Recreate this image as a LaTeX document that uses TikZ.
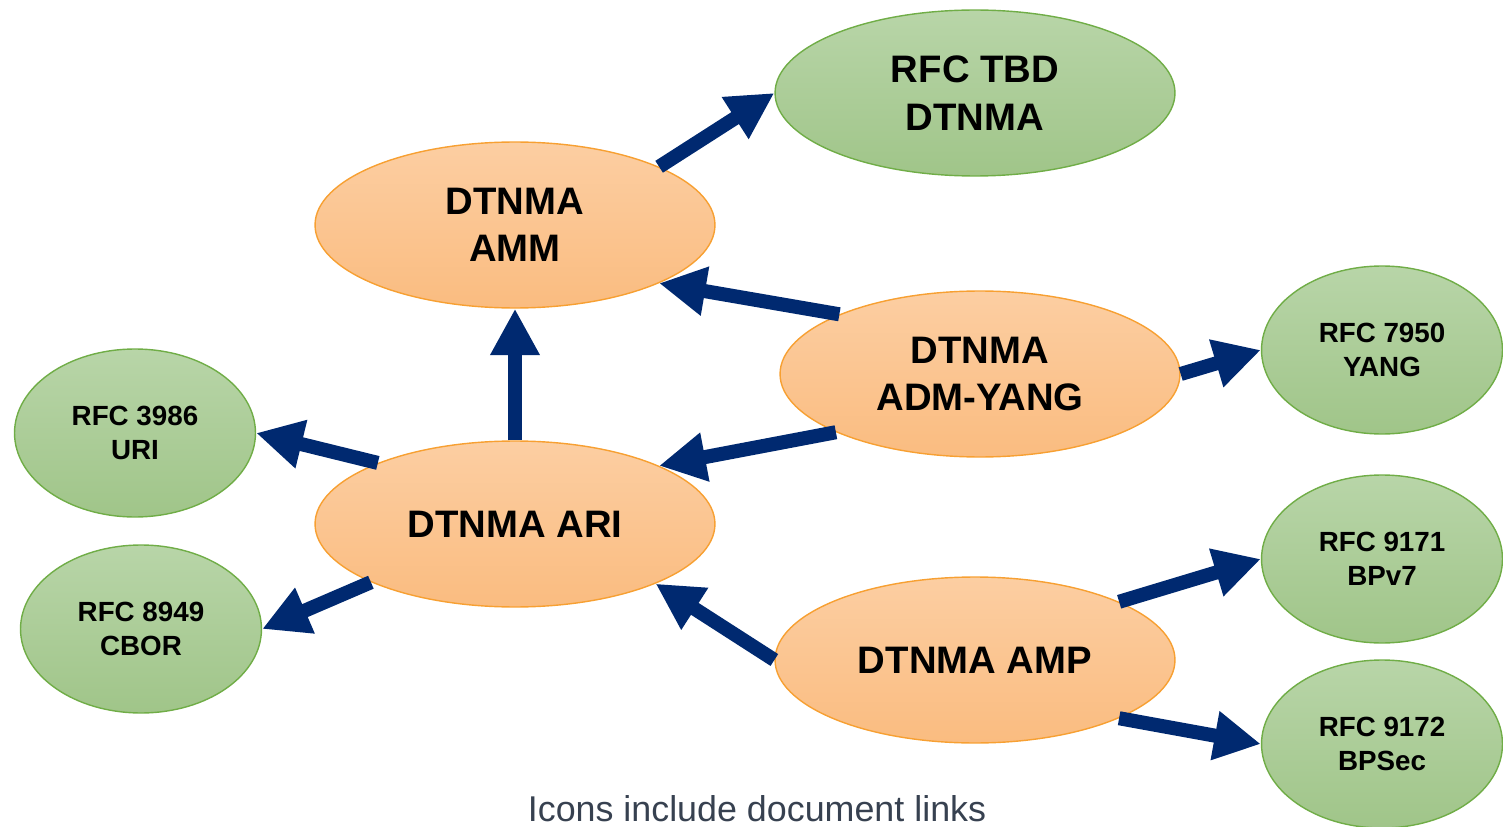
\documentclass[tikz,border=0pt]{standalone}
\usepackage{fontspec}
\setmainfont{Liberation Sans}
\usetikzlibrary{shapes.geometric,arrows.meta}
\definecolor{linkblue}{RGB}{0,41,112}
\definecolor{amborder}{RGB}{247,160,50}
\definecolor{amtop}{RGB}{252,206,162}
\definecolor{ambot}{RGB}{250,188,128}
\definecolor{rfcborder}{RGB}{112,173,71}
\definecolor{rfctop}{RGB}{184,213,168}
\definecolor{rfcbot}{RGB}{160,197,137}
\definecolor{notegray}{RGB}{55,65,80}
\tikzset{
  dtnma/.style={ellipse, draw=amborder, thick, top color=amtop, bottom color=ambot,
    minimum width=8cm, minimum height=3.32cm, inner sep=0pt, align=center,
    font=\fontsize{21.8}{27}\selectfont\bfseries},
  rfcbig/.style={dtnma, draw=rfcborder, top color=rfctop, bottom color=rfcbot},
  rfc/.style={rfcbig, minimum width=4.82cm, minimum height=3.36cm,
    font=\fontsize{15.8}{19.3}\selectfont\bfseries},
  link/.style={-{Triangle[length=26.5pt,width=26.5pt]}, line width=8pt, linkblue},
  note/.style={font=\fontsize{20.4}{24}\selectfont, text=notegray, inner sep=0pt, anchor=base}
}

\begin{document}
\begin{tikzpicture}[x=0.02cm,y=-0.02cm]
  \useasboundingbox (0,0) rectangle (1503,827);
  \node[rfcbig] (tbd) at (975,93) {RFC TBD\\DTNMA};
  \node[dtnma] (amm) at (515,225) {DTNMA\\AMM};
  \node[dtnma] (adm) at (980,374) {DTNMA\\ADM-YANG};
  \node[dtnma] (ari) at (515,524) {DTNMA ARI};
  \node[dtnma] (amp) at (975,660) {DTNMA AMP};
  \node[rfc] (yang) at (1382,350) {RFC 7950\\YANG};
  \node[rfc] (uri) at (135,433) {RFC 3986\\URI};
  \node[rfc] (cbor) at (141,629) {RFC 8949\\CBOR};
  \node[rfc] (bpv) at (1382,559) {RFC 9171\\BPv7};
  \node[rfc] (bpsec) at (1382,744) {RFC 9172\\BPSec};
  \foreach \a/\b in {amm.22.6/tbd.west, adm.157.1/amm.-22.4, adm.202.6/ari.22.4,
      adm.east/yang.west, ari.north/amm.south, ari.156.7/uri.east,
      ari.202.6/cbor.east, amp.west/ari.-23, amp.22.4/bpv.west, amp.-22.4/bpsec.west}
    \draw[link] (\a) -- (\b);
  \node[note] (links) at (757,821) {Icons include document links};
\end{tikzpicture}
\end{document}
